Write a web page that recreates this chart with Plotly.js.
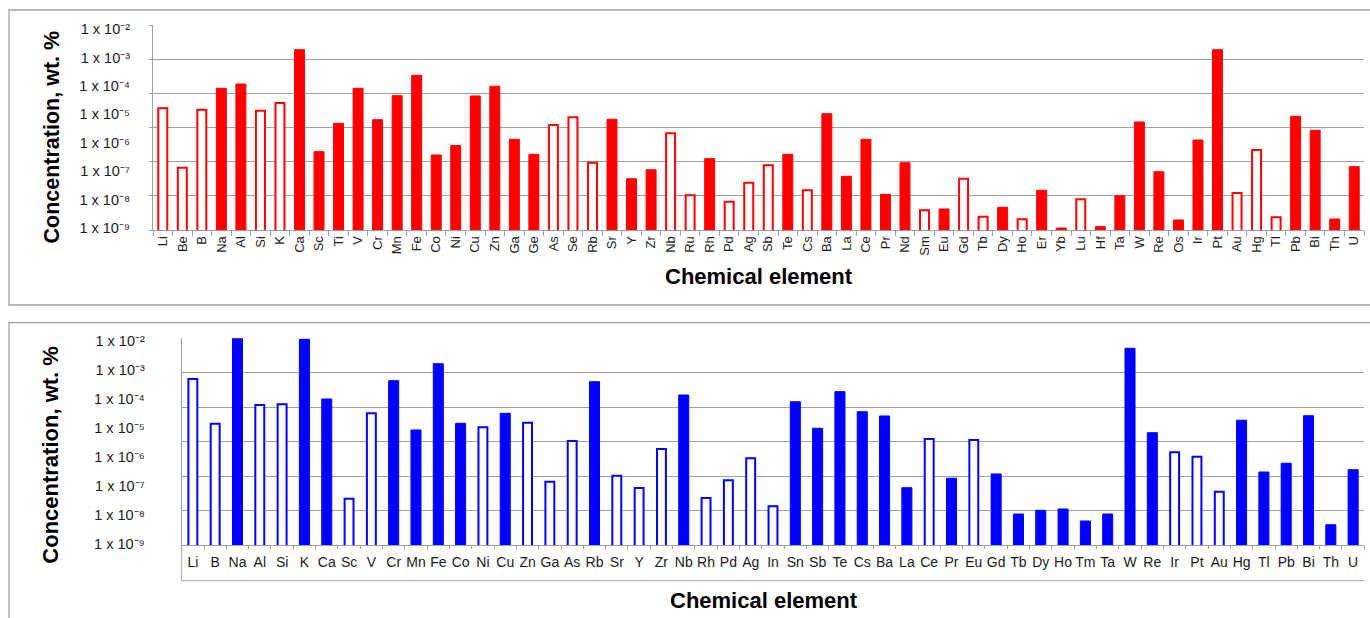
<!DOCTYPE html>
<html><head><meta charset="utf-8">
<script src="https://cdn.plot.ly/plotly-3.0.1.min.js"></script>
<style>html,body{margin:0;padding:0;background:#fff;overflow:hidden}</style>
</head><body><div id="chart" style="width:1370px;height:618px"></div>
<script>
// ---------- data: upper chart (red) ----------
const elementsA = ['Li','Be','B','Na','Al','Si','K','Ca','Sc','Ti','V','Cr','Mn','Fe','Co','Ni','Cu','Zn','Ga','Ge','As','Se','Rb','Sr','Y','Zr','Nb','Ru','Rh','Pd','Ag','Sb','Te','Cs','Ba','La','Ce','Pr','Nd','Sm','Eu','Gd','Tb','Dy','Ho','Er','Yb','Lu','Hf','Ta','W','Re','Os','Ir','Pt','Au','Hg','Tl','Pb','Bi','Th','U'];
const valuesA = [1.64e-5,1.35e-7,1.47e-5,8.26e-5,1.17e-4,1.35e-5,2.52e-5,1.87e-3,4.91e-7,4.88e-6,8.26e-5,6.53e-6,4.55e-5,2.37e-4,3.76e-7,8.09e-7,4.44e-5,9.73e-5,1.34e-6,3.97e-7,4.25e-6,7.93e-6,2.01e-7,6.75e-6,5.52e-8,1.14e-7,2.17e-6,1.44e-8,2.79e-7,8.59e-9,4.00e-8,1.63e-7,3.97e-7,2.16e-8,1.06e-5,6.70e-8,1.34e-6,1.56e-8,2.01e-7,4.28e-9,4.77e-9,5.52e-8,2.55e-9,5.47e-9,2.07e-9,2.16e-8,1.02e-9,1.04e-8,1.14e-9,1.40e-8,5.42e-6,9.73e-8,1.96e-9,1.26e-6,1.87e-3,1.74e-8,5.62e-7,2.43e-9,8.59e-6,2.77e-6,2.12e-9,1.46e-7];
const openElementsA = ['Li','Be','B','Si','K','As','Se','Rb','Nb','Ru','Pd','Ag','Sb','Cs','Sm','Gd','Tb','Ho','Lu','Au','Hg','Tl'];

// ---------- data: lower chart (blue) ----------
const elementsB = ['Li','B','Na','Al','Si','K','Ca','Sc','V','Cr','Mn','Fe','Co','Ni','Cu','Zn','Ga','As','Rb','Sr','Y','Zr','Nb','Rh','Pd','Ag','In','Sn','Sb','Te','Cs','Ba','La','Ce','Pr','Eu','Gd','Tb','Dy','Ho','Tm','Ta','W','Re','Ir','Pt','Au','Hg','Tl','Pb','Bi','Th','U'];
const valuesB = [4.90e-4,1.41e-5,1.3e-2,6.21e-5,6.56e-5,1.15e-2,1.0e-4,3.65e-8,3.21e-5,4.28e-4,8.53e-6,1.65e-3,1.45e-5,1.06e-5,3.21e-5,1.52e-5,1.41e-7,3.56e-6,3.95e-4,2.26e-7,8.53e-8,1.89e-6,1.37e-4,3.85e-8,1.57e-7,9.02e-7,2.0e-8,8.07e-5,9.77e-6,1.79e-4,3.65e-5,2.60e-5,8.73e-8,4.18e-6,1.85e-7,3.85e-6,2.60e-7,1.08e-8,1.45e-8,1.61e-8,6.21e-9,1.08e-8,5.60e-3,6.89e-6,1.45e-6,1.02e-6,6.35e-8,1.85e-5,3.04e-7,6.07e-7,2.65e-5,4.63e-9,3.65e-7];
const openElementsB = ['Li','B','Al','Si','Sc','V','Ni','Zn','Ga','As','Sr','Y','Zr','Rh','Pd','Ag','In','Ce','Eu','Ir','Pt','Au'];

// ---------- tick labels ----------
const decadeExponents = [-9,-8,-7,-6,-5,-4,-3,-2];
const decadeLabels = ['1 x 10\u207B\u2079','1 x 10\u207B\u2078','1 x 10\u207B\u2077','1 x 10\u207B\u2076','1 x 10\u207B\u2075','1 x 10\u207B\u2074','1 x 10\u207B\u00B3','1 x 10\u207B\u00B2'];
const decadeTicks = decadeExponents.map(e => Math.pow(10, e));
const yTitle = 'Concentration, wt. %';
const xTitle = 'Chemical element';

// ---------- helpers ----------
const W = 1370, H = 618;
const px = x => x / W;
const py = y => 1 - y / H;
const FONT = 'Arial, "Liberation Sans", Helvetica, sans-serif';
const GRID = '#a0a0a0';

function split(elements, values, openSet) {
  const solid = values.map((v, i) => openSet.includes(elements[i]) ? null : v);
  const open = values.map((v, i) => openSet.includes(elements[i]) ? v : null);
  return {solid, open};
}
const sA = split(elementsA, valuesA, openElementsA);
const sB = split(elementsB, valuesB, openElementsB);

const RED = '#ff0000', BLUE = '#0000ff';

const traces = [
  // empty helper traces so the gridline axes (y2, y4) get their subplots
  {type:'scatter', mode:'lines', x:[], y:[], xaxis:'x', yaxis:'y2', hoverinfo:'skip', showlegend:false},
  {type:'scatter', mode:'lines', x:[], y:[], xaxis:'x2', yaxis:'y4', hoverinfo:'skip', showlegend:false},
  {type:'bar', x: elementsA, y: sA.solid, xaxis:'x', yaxis:'y', width:0.51,
   marker:{color:RED, line:{color:RED, width:1}}, hoverinfo:'x+y'},
  {type:'bar', x: elementsA, y: sA.open, xaxis:'x', yaxis:'y', width:0.46,
   marker:{color:'#ffffff', line:{color:RED, width:2}}, hoverinfo:'x+y'},
  {type:'bar', x: elementsB, y: sB.solid, xaxis:'x2', yaxis:'y3', width:0.45,
   marker:{color:BLUE, line:{color:BLUE, width:1}}, hoverinfo:'x+y'},
  {type:'bar', x: elementsB, y: sB.open, xaxis:'x2', yaxis:'y3', width:0.40,
   marker:{color:'#ffffff', line:{color:BLUE, width:2}}, hoverinfo:'x+y'}
];

const catAxis = (dom, anchor, cats, extra) => Object.assign({
  domain: dom, anchor: anchor, type:'category', categoryorder:'array', categoryarray: cats,
  range:[-0.5, cats.length - 0.5], showgrid:false, zeroline:false,
  showline:true, linecolor:GRID, linewidth:1,
  ticks:'outside', tickson:'boundaries', tickcolor:GRID, tickwidth:1,
  tickfont:{family:FONT, size:13, color:'#1a1a1a'}, fixedrange:true
}, extra);

const logAxis = (dom, anchor, range, extra) => Object.assign({
  domain: dom, anchor: anchor, type:'log', range: range,
  tickmode:'array', tickvals: decadeTicks, ticktext: decadeLabels,
  ticks:'', showgrid:false, zeroline:false,
  showline:true, linecolor:GRID, linewidth:1,
  tickfont:{family:FONT, size:14.5, color:'#1a1a1a'}, fixedrange:true
}, extra);

const gridAxis = (over, anchor, extra) => Object.assign({
  overlaying: over, anchor: anchor, side:'left', type:'linear', range:[0, 6],
  tickmode:'linear', tick0:0, dtick:1, showgrid:true, gridcolor:GRID, gridwidth:1,
  showticklabels:false, zeroline:false, showline:false, fixedrange:true
}, extra);

const layout = {
  width: W, height: H, margin:{l:0, r:0, t:0, b:0},
  paper_bgcolor:'#ffffff', plot_bgcolor:'rgba(0,0,0,0)',
  showlegend:false, barmode:'overlay',
  font:{family:FONT, color:'#1a1a1a'},
  xaxis: catAxis([px(153), px(1364)], 'y', elementsA, {tickangle:-90, ticklen:5}),
  yaxis: logAxis([py(230), py(25)], 'x', [-9.0597, -1.8595], {ticklabelstandoff:19}),
  yaxis2: gridAxis('y', 'x', {ticks:'outside', ticklen:3, tickcolor:GRID}),
  xaxis2: catAxis([px(181.7), px(1364.3)], 'y3', elementsB, {tickangle:0, ticklen:3, ticklabelstandoff:4, tickfont:{family:FONT, size:14, color:'#1a1a1a'}}),
  yaxis3: logAxis([py(545.3), py(338.3)], 'x2', [-9.045, -1.907], {ticklabelstandoff:33}),
  yaxis4: gridAxis('y3', 'x2', {ticks:''}),
  shapes: [
    {type:'rect', xref:'paper', yref:'paper', x0:px(9), x1:px(1380), y0:py(10), y1:py(305), line:{color:GRID, width:1.3}, layer:'below'},
    {type:'rect', xref:'paper', yref:'paper', x0:px(9), x1:px(1380), y0:py(322.7), y1:py(640), line:{color:GRID, width:1.3}, layer:'below'},
    {type:'path', xref:'paper', yref:'paper',
     path:'M ' + px(181.7) + ' ' + py(545.3) + ' L ' + px(181.7) + ' ' + py(580.7) + ' L ' + px(1364.3) + ' ' + py(580.7),
     line:{color:GRID, width:1}, layer:'below'}
  ],
  annotations: [
    {text: yTitle, xref:'paper', yref:'paper', x:px(52), y:py(137.5), textangle:-90, showarrow:false,
     xanchor:'center', yanchor:'middle', font:{family:FONT, size:21.5, weight:'bold', color:'#000'}},
    {text: xTitle, xref:'paper', yref:'paper', x:px(759), y:py(277), showarrow:false,
     xanchor:'center', yanchor:'middle', font:{family:FONT, size:22, weight:'bold', color:'#000'}},
    {text: yTitle, xref:'paper', yref:'paper', x:px(49.7), y:py(455), textangle:-90, showarrow:false,
     xanchor:'center', yanchor:'middle', font:{family:FONT, size:22, weight:'bold', color:'#000'}},
    {text: xTitle, xref:'paper', yref:'paper', x:px(764), y:py(600), showarrow:false,
     xanchor:'center', yanchor:'middle', font:{family:FONT, size:22, weight:'bold', color:'#000'}}
  ]
};

Plotly.newPlot('chart', traces, layout, {displayModeBar:false, staticPlot:true});
</script>
</body></html>
